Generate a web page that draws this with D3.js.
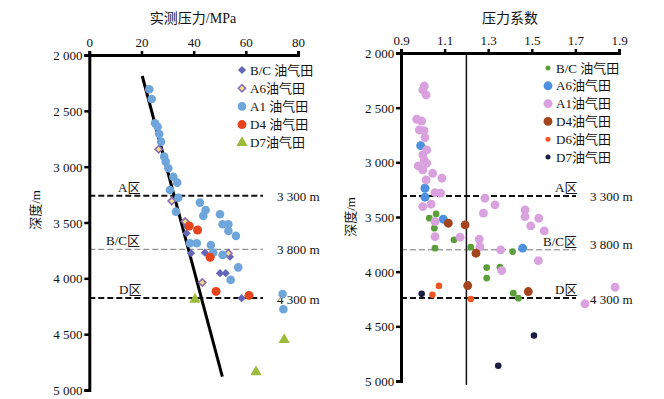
<!DOCTYPE html>
<html><head><meta charset="utf-8">
<script src="https://cdn.jsdelivr.net/npm/d3@7"></script>
<style>
body{margin:0;background:#fff}
svg{display:block}
text{font-family:"Liberation Serif","Noto Sans CJK SC",serif;fill:#111}
</style>
</head><body>
<svg id="c" width="664" height="399"></svg>
<script>
// ---------- data ----------
const depthTicks = [2000, 2500, 3000, 3500, 4000, 4500, 5000];
const pressureTicks = [0, 20, 40, 60, 80];
const coefTicks = [0.9, 1.1, 1.3, 1.5, 1.7, 1.9];

const leftTitle = "实测压力/MPa";
const rightTitle = "压力系数";
const depthTitle = "深度/m";

const zoneNames = ["A区", "B/C区", "D区"];
const zoneLabels = ["3 300 m", "3 800 m", "4 300 m"];
const leftZoneDepth = [3260, 3740, 4175];
const rightZoneDepth = [3307, 3800, 4240];

const coefReference = 1.2;
const trendLine = [[20.3, 2188], [51.0, 4880]];

// left chart: [pressure MPa, depth m]
const leftNames = ["B/C 油气田", "A6油气田", "A1 油气田", "D4 油气田", "D7油气田"];
const leftBC = [[37.5,3537],[37.3,3596],[39.0,3775],[44.3,3770],[53.9,3806],[50.1,3954],[52.3,3954],[58.4,4178]];
const leftA6 = [[26.6,2844],[31.6,3307],[36.7,3492],[53.3,3775],[43.3,4037]];
const leftA1 = [[23.0,2307],[23.9,2394],[25.2,2611],[26.2,2642],[26.8,2707],[27.5,2776],[28.7,2910],[29.3,2955],
  [30.3,3014],[32.2,3090],[33.7,3143],[30.9,3209],[34.1,3278],[33.2,3403],[42.4,3322],[44.6,3388],[43.7,3441],
  [50.1,3426],[51.1,3516],[53.3,3516],[53.3,3576],[56.2,3620],[38.6,3686],[41.2,3686],[46.6,3701],[47.5,3770],
  [51.1,3790],[57.1,3902],[54.2,4014],[74.1,4140],[74.4,4277]];
const leftD4 = [[38.3,3531],[41.5,3567],[46.3,3811],[48.6,4117],[61.2,4153]];
const leftD7 = [[40.5,4189],[74.7,4551],[63.9,4838]];

// right chart: [pressure coefficient, depth m]
const rightNames = ["B/C 油气田", "A6油气田", "A1油气田", "D4油气田", "D6油气田", "D7油气田"];
const rightBC = [[1.030,3511],[1.061,3472],[1.053,3602],[1.143,3709],[1.056,3785],[1.220,3776],[1.293,3963],
  [1.293,4059],[1.354,3959],[1.412,3816],[1.415,4197],[1.438,4242]];
const rightA6 = [[0.990,2847],[1.010,3237],[1.010,3319],[1.094,3520],[1.458,3785]];
const rightA1 = [[1.007,2302],[1.000,2338],[1.015,2384],[0.972,2606],[0.995,2622],[0.984,2704],[1.006,2710],
  [1.010,2774],[1.018,2887],[1.000,2932],[1.006,2978],[0.979,3033],[1.000,3069],[1.018,3008],[1.015,3161],
  [1.045,3100],[1.088,3145],[1.056,3277],[1.082,3282],[1.000,3405],[1.038,3383],[1.285,3328],[1.331,3389],
  [1.278,3465],[1.469,3435],[1.469,3496],[1.495,3581],[1.532,3511],[1.557,3627],[1.056,3542],[1.056,3679],
  [1.171,3685],[1.259,3703],[1.262,3771],[1.357,3801],[1.362,3990],[1.530,3899],[1.882,4142],[1.744,4294]];
const rightD4 = [[1.117,3557],[1.194,3572],[1.244,3831],[1.206,4127],[1.484,4182]];
const rightD6 = [[1.074,4130],[1.044,4212],[1.220,4251]];
const rightD7 = [[0.995,4203],[1.510,4584],[1.346,4861]];

// ---------- drawing ----------
const svg = d3.select("#c");
const fmt = v => d3.format(",")(v).replace(",", " ");

function panel(o) {
  const g = svg.append("g");
  const x = d3.scaleLinear().domain(o.xDomain).range(o.xRange);
  const y = d3.scaleLinear().domain([2000, 5000]).range(o.yRange);

  o.zoneDepth.forEach((d, i) => {
    const thin = i === 1;
    g.append("line").attr("x1", x.range()[0]).attr("x2", o.zoneEnd)
      .attr("y1", y(d)).attr("y2", y(d))
      .attr("stroke", thin ? "#777" : "#111").attr("stroke-width", thin ? 1 : 2)
      .attr("stroke-dasharray", "6,3");
  });

  if (o.vline !== undefined) {
    g.append("line").attr("x1", x(o.vline)).attr("x2", x(o.vline))
      .attr("y1", y(2000)).attr("y2", o.vlineEnd).attr("stroke", "#111").attr("stroke-width", 1.5);
  }

  const xa = g.append("g").attr("transform", `translate(0,${y(2000)})`)
    .call(d3.axisTop(x).tickValues(o.xTicks).tickSize(4).tickFormat(o.xFmt));
  const ya = g.append("g").attr("transform", `translate(${x.range()[0]},0)`)
    .call(d3.axisLeft(y).tickValues(depthTicks).tickSize(5).tickFormat(fmt));
  [xa, ya].forEach(a => {
    a.select(".domain").attr("stroke", "#000").attr("stroke-width", 3);
    a.selectAll(".tick line").attr("stroke", "#000").attr("stroke-width", 2.5);
    a.selectAll("text").style("font-size", "13px").attr("fill", "#111");
  });
  xa.selectAll("text").attr("dy", "-0.1em");
  ya.selectAll("text").attr("dx", "0.1em").attr("dy", "0.35em");

  g.append("text").attr("x", o.titleX).attr("y", 23).attr("text-anchor", "middle")
    .style("font-size", "14px").attr("fill", "#555").text(o.title);
  g.append("text").attr("transform", `translate(${o.depthTitleX},${o.depthTitleY}) rotate(-90)`)
    .attr("text-anchor", "middle").attr("dy", "0.35em").style("font-size", "13px").attr("fill", "#666").text(depthTitle);

  o.zoneDepth.forEach((d, i) => {
    g.append("text").attr("x", o.zoneNameX[i]).attr("y", y(d) - 4)
      .style("font-size", "13px").text(zoneNames[i]);
    g.append("text").attr("x", o.zoneLabelX).attr("y", y(d) + o.zoneLabelDy[i])
      .attr("dy", "0.35em").style("font-size", "13px").text(zoneLabels[i]);
  });

  return {g, x, y};
}

function markerTransform(st) { return st.rot ? " rotate(45)" : ""; }

function drawSeries(p, data, st) {
  const sym = d3.symbol().type(st.type).size(st.size);
  p.g.append("g").selectAll("path").data(data).join("path")
    .attr("transform", d => `translate(${p.x(d[0])},${p.y(d[1])})` + markerTransform(st))
    .attr("d", sym())
    .attr("fill", st.fill).attr("stroke", st.stroke || "none").attr("stroke-width", st.sw || 0);
}

function legend(p, names, styles, lx, ly, dy) {
  names.forEach((n, i) => {
    const st = styles[i];
    p.g.append("path").attr("transform", `translate(${lx},${ly + i * dy})` + markerTransform(st))
      .attr("d", d3.symbol().type(st.type).size(st.lsize || st.size)())
      .attr("fill", st.fill).attr("stroke", st.stroke || "none").attr("stroke-width", st.sw || 0);
    p.g.append("text").attr("x", lx + 8).attr("y", ly + i * dy).attr("dy", "0.36em")
      .style("font-size", "13px").text(n);
  });
}

// left panel
const L = panel({
  xDomain: [0, 80], xRange: [89.3, 298], yRange: [55, 390],
  xTicks: pressureTicks, xFmt: d3.format("d"), zoneDepth: leftZoneDepth, zoneEnd: 263,
  title: leftTitle, titleX: 193, depthTitleX: 35, depthTitleY: 210,
  zoneNameX: [118, 106, 119], zoneLabelX: 277, zoneLabelDy: [1, 0, 2]
});
L.g.append("line").attr("x1", L.x(trendLine[0][0])).attr("y1", L.y(trendLine[0][1]))
  .attr("x2", L.x(trendLine[1][0])).attr("y2", L.y(trendLine[1][1]))
  .attr("stroke", "#000").attr("stroke-width", 3);

const leftStyles = [
  {type: d3.symbolSquare, size: 34, fill: "#6467b8", rot: true},
  {type: d3.symbolSquare, size: 26, fill: "#f3e27a", stroke: "#8c6cbc", sw: 1.6, rot: true},
  {type: d3.symbolCircle, size: 58, fill: "#6ea6dc"},
  {type: d3.symbolCircle, size: 64, fill: "#e6441c"},
  {type: d3.symbolTriangle, size: 55, fill: "#9bbb3a"}
];
[leftBC, leftA6, leftA1, leftD4, leftD7].forEach((d, i) => drawSeries(L, d, leftStyles[i]));
legend(L, leftNames, leftStyles, 242, 70, 18.2);

// right panel
const R = panel({
  xDomain: [0.9, 1.9], xRange: [401, 619], yRange: [53, 381],
  xTicks: coefTicks, xFmt: d3.format(".1f"), zoneDepth: rightZoneDepth, zoneEnd: 576,
  title: rightTitle, titleX: 510, depthTitleX: 350, depthTitleY: 217,
  zoneNameX: [555, 543, 555], zoneLabelX: 590, zoneLabelDy: [1, -5, 2],
  vline: coefReference, vlineEnd: 385
});
const rightStyles = [
  {type: d3.symbolCircle, size: 36, fill: "#5c9e3c", lsize: 20},
  {type: d3.symbolCircle, size: 62, fill: "#4d8fe0"},
  {type: d3.symbolCircle, size: 62, fill: "#d9a2de"},
  {type: d3.symbolCircle, size: 62, fill: "#a3441f"},
  {type: d3.symbolCircle, size: 34, fill: "#f05624", lsize: 20},
  {type: d3.symbolCircle, size: 34, fill: "#1d1d42", lsize: 20}
];
[rightBC, rightA6, rightA1, rightD4, rightD6, rightD7].forEach((d, i) => drawSeries(R, d, rightStyles[i]));
legend(R, rightNames, rightStyles, 548, 68, 17.8);
</script>
</body></html>
